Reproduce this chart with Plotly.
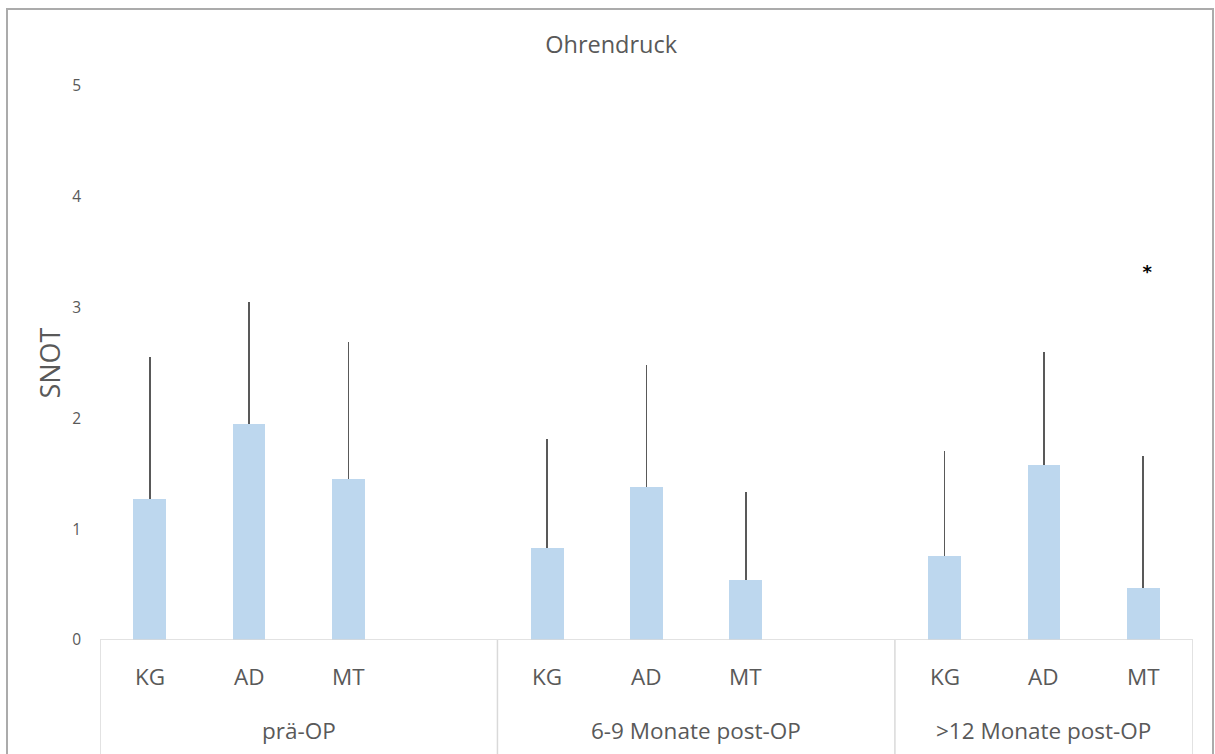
import plotly.graph_objects as go

# Data
groups = ["prä-OP", "6-9 Monate post-OP", ">12 Monate post-OP"]
subgroups = ["KG", "AD", "MT"]
means_pre = [1.27, 1.95, 1.45]
means_6_9 = [0.83, 1.38, 0.54]
means_12 = [0.76, 1.58, 0.47]
sd_pre = [1.28, 1.10, 1.24]
sd_6_9 = [0.98, 1.10, 0.80]
sd_12 = [0.95, 1.02, 1.19]
star_value = 3.31
y_ticks = [0, 1, 2, 3, 4, 5]

# Slot layout: each group has 3 bars followed by one empty slot (last group has none)
slots_per_group = [4, 4, 3]
x_pos, means, sds, labels = [], [], [], []
group_bounds, group_centers = [], []
start = 0
for g, (m, s) in enumerate(zip([means_pre, means_6_9, means_12], [sd_pre, sd_6_9, sd_12])):
    n = slots_per_group[g]
    group_bounds.append(start - 0.5)
    group_centers.append(start + (n - 1) / 2)
    for i in range(3):
        x_pos.append(start + i)
        means.append(m[i])
        sds.append(s[i])
        labels.append(subgroups[i])
    start += n
group_bounds.append(start - 0.5)

W, H = 1215, 754
ML, MR, MT_, MB = 100, 22, 86, 114
plot_h = H - MT_ - MB
plot_w = W - ML - MR

fig = go.Figure()
fig.add_trace(go.Bar(
    x=x_pos, y=means, width=0.33,
    marker=dict(color="#BDD7EE", line=dict(width=0)),
    error_y=dict(type="data", symmetric=False, array=sds, arrayminus=[0] * len(sds),
                 color="#595959", thickness=1.8, width=0),
    hoverinfo="skip",
))
# significance marker above last MT bar
fig.add_trace(go.Scatter(
    x=[x_pos[-1] + 0.04], y=[star_value], mode="text", text=["<b>*</b>"],
    textfont=dict(size=18, color="#000000", family="DejaVu Sans"),
    hoverinfo="skip",
))

font_fam = "Open Sans, Liberation Sans, sans-serif"
gray = "#595959"

shapes = []
# baseline
shapes.append(dict(type="line", xref="x", yref="y", x0=group_bounds[0], x1=group_bounds[-1],
                   y0=0, y1=0, line=dict(color="#D9D9D9", width=1.5)))
# group separators down through the label area
for b in group_bounds:
    shapes.append(dict(type="line", xref="x", yref="paper", x0=b, x1=b,
                       y0=0, y1=-MB / plot_h, line=dict(color="#D9D9D9", width=1.5)))
# chart border
shapes.append(dict(type="rect", xref="paper", yref="paper",
                   x0=(7 - ML) / plot_w, x1=(W - 2 - ML) / plot_w,
                   y0=-(H + 20 - MT_ - plot_h) / plot_h, y1=(plot_h + MT_ - 9) / plot_h,
                   line=dict(color="#ABABAB", width=2)))

annotations = []
for xp, lab in zip(x_pos, labels):
    annotations.append(dict(x=xp, y=0, xref="x", yref="paper", text=lab, showarrow=False,
                            yanchor="middle", yshift=-36,
                            font=dict(family=font_fam, size=22.5, color=gray)))
for xc, g in zip(group_centers, groups):
    annotations.append(dict(x=xc, y=0, xref="x", yref="paper", text=g, showarrow=False,
                            yanchor="middle", yshift=-90,
                            font=dict(family=font_fam, size=22.5, color=gray)))

fig.update_layout(
    width=W, height=H,
    margin=dict(l=ML, r=MR, t=MT_, b=MB),
    paper_bgcolor="white", plot_bgcolor="white",
    showlegend=False,
    title=dict(text="Ohrendruck", x=0.503, xref="container", xanchor="center",
               y=1 - 45 / H, yanchor="middle",
               font=dict(family=font_fam, size=23.5, color=gray)),
    xaxis=dict(range=[group_bounds[0], group_bounds[-1]], showgrid=False, zeroline=False,
               showline=False, showticklabels=False, ticks=""),
    yaxis=dict(range=[0, 5], tickvals=y_ticks, showgrid=False, zeroline=False, showline=False,
               ticks="", ticklabelstandoff=18,
               tickfont=dict(family=font_fam, size=15.5, color=gray),
               title=dict(text="SNOT", standoff=3, font=dict(family=font_fam, size=27, color=gray))),
    shapes=shapes, annotations=annotations,
    bargap=0,
)

fig.write_html("out.html")
